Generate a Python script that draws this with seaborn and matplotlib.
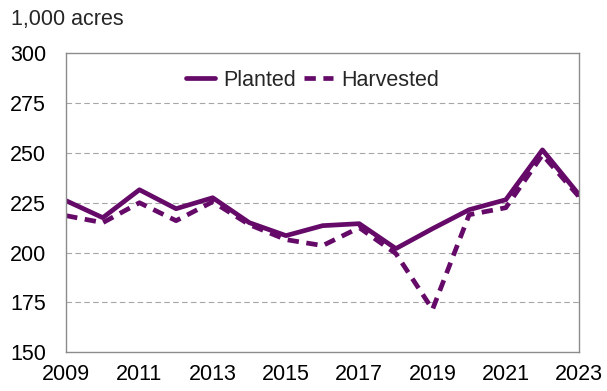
import matplotlib
matplotlib.use('Agg')
import matplotlib.pyplot as plt
import seaborn as sns
import pandas as pd
import numpy as np

### Data
years = list(range(2009, 2024))
planted = [226, 217.5, 231.5, 222, 227.5, 215, 208.5, 213.5, 214.5, 202, 212, 221.5, 226.5, 251.5, 229]
harvested = [218.5, 215, 225, 216, 225.5, 214, 206.5, 203.5, 212.5, 199.5, 171.5, 219, 222.5, 249, 228]

df = pd.DataFrame({
	'Year': years * 2,
	'Acres': planted + harvested,
	'Series': ['Planted'] * len(years) + ['Harvested'] * len(years),
})

### Style
sns.set_style('white')
plt.rcParams['font.family'] = ['Liberation Sans', 'DejaVu Sans']
purple = '#650a68'
gridcol = '#a6a6a6'
fs = 15.5

fig = plt.figure(figsize=(6.07, 3.91), dpi=100)
ax = fig.add_axes([0.109, 0.099, 0.845, 0.765])

sns.lineplot(data=df, x='Year', y='Acres', style='Series', ax=ax,
	color=purple, linewidth=3.4,
	dashes={'Planted': '', 'Harvested': (2.4, 1.6)},
	style_order=['Planted', 'Harvested'])

ax.set_xlim(2009, 2023)
ax.set_ylim(150, 300)
ax.set_yticks(np.arange(150, 301, 25))
ax.set_xticks(years, minor=True)
ax.set_xticks(list(range(2009, 2024, 2)))
ax.set_xlabel(''); ax.set_ylabel('')

# Horizontal dashed gridlines
for v in range(175, 300, 25):
	ax.axhline(v, color=gridcol, linestyle=(0, (5, 3)), linewidth=0.8, zorder=0)

for s in ax.spines.values():
	s.set_color('#8c8c8c')
	s.set_linewidth(1.0)

ax.tick_params(axis='both', which='both', direction='out', colors='#8c8c8c',
	labelcolor='black', labelsize=fs)
ax.tick_params(axis='y', length=5.5, width=1, pad=9)
ax.tick_params(axis='x', which='both', length=5, width=1, pad=3.5)

leg = ax.legend(loc='center', bbox_to_anchor=(0.48, 0.91), ncol=2, frameon=False,
	fontsize=fs, handlelength=1.35, columnspacing=0.35, handletextpad=0.4)
leg.set_title(None)

fig.text(0.018, 0.936, '1,000 acres', fontsize=fs, ha='left', va='baseline')

fig.savefig('out.png', dpi=100)
